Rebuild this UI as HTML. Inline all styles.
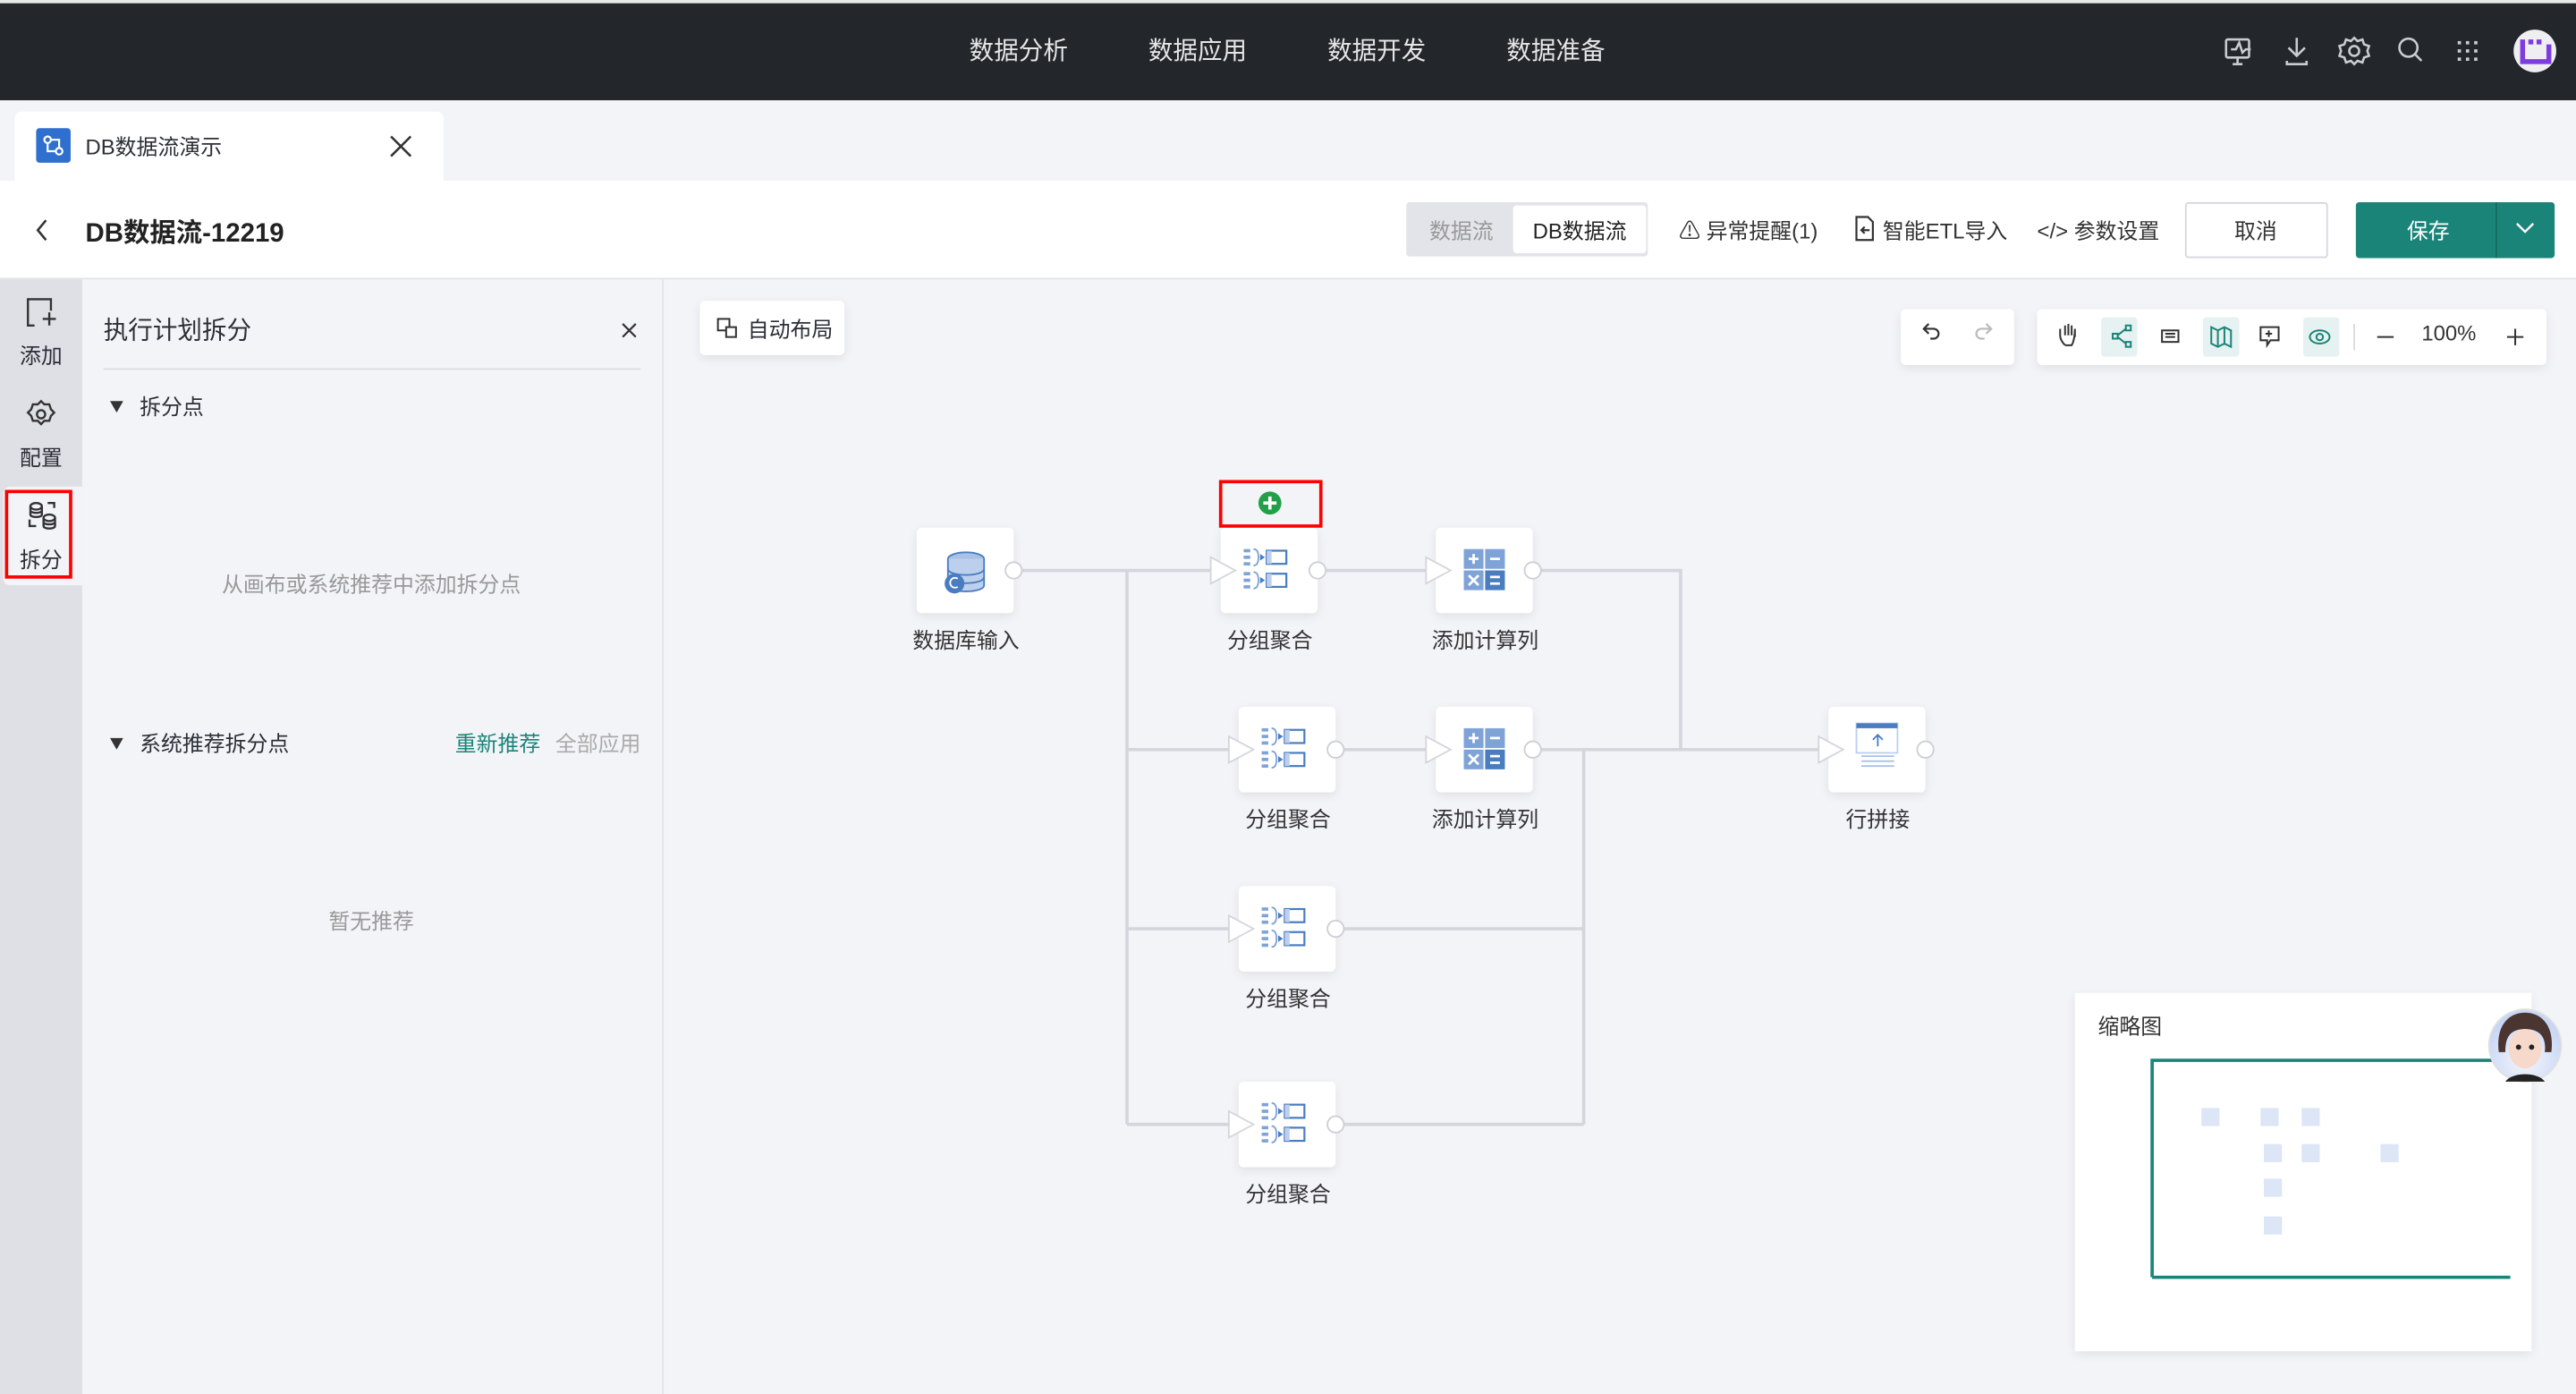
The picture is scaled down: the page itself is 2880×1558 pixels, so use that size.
<!DOCTYPE html>
<html><head><meta charset="utf-8">
<style>
html,body{margin:0;padding:0;width:2880px;height:1558px;overflow:hidden;background:#f3f4f8;}
#s{position:absolute;left:0;top:0;width:1568px;height:848px;transform:scale(1.836735,1.837264);transform-origin:0 0;font-family:"Liberation Sans","Noto Sans CJK SC",sans-serif;color:#2b2f36;background:#f3f4f8;}
.a{position:absolute;white-space:nowrap;}
.t{font-size:13px;margin-top:-2px;}
.card{position:absolute;background:#fff;border-radius:3px;box-shadow:0 2px 6px rgba(0,0,0,0.08);}
.lbl{position:absolute;font-size:13px;color:#333;transform:translateX(-50%);white-space:nowrap;margin-top:-1px;}
.tri{position:absolute;width:0;height:0;border-left:4.5px solid transparent;border-right:4.5px solid transparent;border-top:7px solid #333;}
</style></head><body>
<div id="s">
<!-- top bar -->
<div class="a" style="left:0;top:0;width:1568px;height:2px;background:#e8e8e8"></div>
<div class="a" style="left:0;top:2px;width:1568px;height:59px;background:#23272b"></div>
<div class="a" style="left:590px;top:20px;font-size:15px;color:#e6e6e6">数据分析</div>
<div class="a" style="left:699px;top:20px;font-size:15px;color:#e6e6e6">数据应用</div>
<div class="a" style="left:808px;top:20px;font-size:15px;color:#e6e6e6">数据开发</div>
<div class="a" style="left:917px;top:20px;font-size:15px;color:#e6e6e6">数据准备</div>
<svg class="a" style="left:1340px;top:15px" width="228" height="34" viewBox="0 0 228 34" fill="none" stroke="#c9ccd0" stroke-width="1.4">
<rect x="15" y="9" width="14" height="11" rx="1"/><path d="M18 15l3-0 2-4 2 6 2-2h3M19 24h6M22 20v4"/>
<path d="M58 8v11M53 14l5 5 5-5M52 22v2h12v-2"/>
<circle cx="93" cy="16" r="3"/><path d="M93 8l2 2 3-1 1 3 3 1-1 3 1 3-3 1-1 3-3-1-2 2-2-2-3 1-1-3-3-1 1-3-1-3 3-1 1-3 3 1z"/>
<circle cx="126" cy="14" r="5.5"/><path d="M130 18l4 4"/>
<g fill="#c9ccd0" stroke="none"><rect x="156" y="10" width="2" height="2"/><rect x="161" y="10" width="2" height="2"/><rect x="166" y="10" width="2" height="2"/><rect x="156" y="15" width="2" height="2"/><rect x="161" y="15" width="2" height="2"/><rect x="166" y="15" width="2" height="2"/><rect x="156" y="20" width="2" height="2"/><rect x="161" y="20" width="2" height="2"/><rect x="166" y="20" width="2" height="2"/></g>
<circle cx="203" cy="16" r="13" fill="#efeff2" stroke="none"/>
<path d="M196 9h3v3h-3zM201 9h3v3h-3zM206 9h3v3h-3zM196 12h3v9h13v-9h3v12h-19z" fill="#7d3ce0" stroke="none" transform="translate(-2,0)"/>
</svg>
<!-- tab row -->
<div class="a" style="left:9px;top:68px;width:261px;height:42px;background:#fff;border-radius:4px 4px 0 0"></div>
<div class="a" style="left:22px;top:78px;width:21px;height:21px;background:#2f6fce;border-radius:2px"></div>
<svg class="a" style="left:22px;top:78px" width="21" height="21" fill="none" stroke="#fff" stroke-width="1.2"><circle cx="7" cy="7" r="2"/><circle cx="14" cy="14" r="2"/><path d="M9 7h5v5M7 9v5h5"/></svg>
<div class="a t" style="left:52px;top:81px;color:#2b2f36">DB数据流演示</div>
<svg class="a" style="left:237px;top:82px" width="14" height="14" stroke="#333" stroke-width="1.4"><path d="M1 1l12 12M13 1L1 13"/></svg>
<!-- header -->
<div class="a" style="left:0;top:110px;width:1568px;height:59px;background:#fff;border-bottom:1px solid #e2e4e8"></div>
<svg class="a" style="left:20px;top:132px" width="12" height="16" fill="none" stroke="#333" stroke-width="1.4"><path d="M8 2l-5 6 5 6"/></svg>
<div class="a" style="left:52px;top:128px;font-size:16px;font-weight:bold;color:#222">DB数据流-12219</div>
<div class="a" style="left:856px;top:123px;width:147px;height:33px;background:#e2e4e9;border-radius:2px"></div>
<div class="a" style="left:921px;top:125px;width:81px;height:29px;background:#fff;border-radius:2px"></div>
<div class="a t" style="left:870px;top:132px;color:#999">数据流</div>
<div class="a t" style="left:933px;top:132px;color:#222">DB数据流</div>
<div class="a t" style="left:1022px;top:132px;color:#333">⚠ 异常提醒(1)</div>
<svg class="a" style="left:1128px;top:131px" width="14" height="16" fill="none" stroke="#333" stroke-width="1.2"><path d="M2 1h7l3 3v11H2zM5 9h5M7 7l-2 2 2 2"/></svg>
<div class="a t" style="left:1146px;top:132px;color:#333">智能ETL导入</div>
<div class="a t" style="left:1240px;top:132px;color:#333">&lt;/&gt; 参数设置</div>
<div class="a" style="left:1330px;top:123px;width:85px;height:32px;background:#fff;border:1px solid #d5d8de;border-radius:2px"></div>
<div class="a t" style="left:1360px;top:132px;color:#333">取消</div>
<div class="a" style="left:1434px;top:123px;width:121px;height:34px;background:#1b8479;border-radius:2px"></div>
<div class="a" style="left:1519px;top:123px;width:1px;height:34px;background:#136c62"></div>
<div class="a t" style="left:1465px;top:132px;color:#fff">保存</div>
<svg class="a" style="left:1531px;top:134px" width="12" height="10" fill="none" stroke="#fff" stroke-width="1.3"><path d="M1 2l5 5 5-5"/></svg>
<!-- left rail -->
<div class="a" style="left:0;top:170px;width:50px;height:678px;background:#dfe0e5"></div>
<div class="a" style="left:2px;top:296px;width:48px;height:60px;background:#f3f4f8;border-radius:4px 0 0 4px"></div>
<svg class="a" style="left:14px;top:180px" width="22" height="22" fill="none" stroke="#333" stroke-width="1.3"><path d="M11 2H3v16h4M3 2h14v7M12 14h8M16 10v8"/></svg>
<div class="a t" style="left:12px;top:208px">添加</div>
<svg class="a" style="left:15px;top:242px" width="20" height="20" fill="none" stroke="#333" stroke-width="1.3"><circle cx="10" cy="10" r="2.5"/><path d="M10 2l2 2 3-0 1 3 2 2-2 2 -1 3-3 0-2 2-2-2-3 0-1-3-2-2 2-2 1-3 3 0z"/></svg>
<div class="a t" style="left:12px;top:270px">配置</div>
<svg class="a" style="left:15px;top:304px" width="22" height="20" fill="none" stroke="#333" stroke-width="1.3"><ellipse cx="7" cy="4" rx="3.5" ry="2"/><path d="M3.5 4v5c0 2 7 2 7 0V4M3.5 6.5c0 2 7 2 7 0"/><ellipse cx="15" cy="11" rx="3.5" ry="2"/><path d="M11.5 11v5c0 2 7 2 7 0v-5M11.5 13.5c0 2 7 2 7 0M14 2h4v3M3 12v4h4"/></svg>
<div class="a t" style="left:12px;top:332px">拆分</div>
<div class="a" style="left:3px;top:298px;width:37px;height:50px;border:2px solid #f00"></div>
<!-- panel -->
<div class="a" style="left:403px;top:170px;width:1px;height:678px;background:#e2e4e8"></div>
<div class="a" style="left:63px;top:190px;font-size:15px;color:#2b2f36">执行计划拆分</div>
<svg class="a" style="left:378px;top:196px" width="10" height="10" stroke="#333" stroke-width="1.2"><path d="M1 1l8 8M9 1L1 9"/></svg>
<div class="a" style="left:63px;top:224px;width:327px;height:1px;background:#dcdee3"></div>
<div class="tri" style="left:67px;top:244px"></div>
<div class="a t" style="left:85px;top:239px">拆分点</div>
<div class="a t" style="left:135px;top:347px;color:#999">从画布或系统推荐中添加拆分点</div>
<div class="tri" style="left:67px;top:449px"></div>
<div class="a t" style="left:85px;top:444px">系统推荐拆分点</div>
<div class="a t" style="left:277px;top:444px;color:#1b8479">重新推荐</div>
<div class="a t" style="left:338px;top:444px;color:#aaa">全部应用</div>
<div class="a t" style="left:200px;top:552px;color:#999">暂无推荐</div>
<!-- canvas tools -->
<div class="card" style="left:426px;top:183px;width:88px;height:33px"></div>
<svg class="a" style="left:436px;top:193px" width="14" height="14" fill="none" stroke="#333" stroke-width="1.1"><rect x="1" y="1" width="7" height="7"/><rect x="6" y="6" width="6" height="6" fill="#fff"/></svg>
<div class="a t" style="left:455px;top:192px">自动布局</div>
<div class="card" style="left:1157px;top:188px;width:69px;height:34px"></div>
<svg class="a" style="left:1157px;top:188px" width="69" height="34" fill="none" stroke-width="1.2"><path d="M17 13l-3 3 3 3M14 16h6a3 3 0 0 1 0 6h-2" stroke="#333" transform="translate(0,-4)"/><path d="M52 13l3 3-3 3M55 16h-6a3 3 0 0 0 0 6h2" stroke="#bbb" transform="translate(0,-4)"/></svg>
<div class="card" style="left:1240px;top:188px;width:310px;height:34px"></div>
<div class="a" style="left:1279px;top:193px;width:22px;height:24px;background:#e6f2f1;border-radius:2px"></div>
<div class="a" style="left:1341px;top:193px;width:22px;height:24px;background:#e6f2f1;border-radius:2px"></div>
<div class="a" style="left:1402px;top:193px;width:22px;height:24px;background:#e6f2f1;border-radius:2px"></div>
<svg class="a" style="left:1240px;top:188px" width="310" height="34" fill="none" stroke-width="1.1">
<path d="M17 22c-2-2-3-4-3-6v-4M17 16V10M19 16V9M21 16V10M23 17v-5c0 0 0 7-2 10h-4" stroke="#333"/>
<g stroke="#1b8479"><rect x="54" y="10" width="3" height="3"/><rect x="54" y="20" width="3" height="3"/><rect x="46" y="15" width="3" height="3"/><path d="M49 16l5-4M49 17l5 4"/></g>
<g stroke="#333"><rect x="76" y="13" width="10" height="7"/><path d="M78 15h6M78 17h6"/></g>
<path d="M106 11l4 2 4-2 4 2v10l-4-2-4 2-4-2z M110 13v10M114 11v10" stroke="#1b8479"/>
<path d="M136 11h11v8h-5l-2 3v-3h-4z M141 13v4M139 15h4" stroke="#333"/>
<ellipse cx="172" cy="17" rx="6" ry="4" stroke="#1b8479"/><circle cx="172" cy="17" r="2" stroke="#1b8479"/>
<path d="M193 9v16" stroke="#ddd"/>
<path d="M207 17h10M286 17h10M291 12v10" stroke="#333"/>
</svg>
<div class="a t" style="left:1474px;top:197px;color:#333">100%</div>
<!-- connectors -->
<svg class="a" style="left:0;top:0" width="1568" height="848" fill="none">
<g stroke="#d3d6dc" stroke-width="2">
<path d="M617 347H743M686 347V684M686 456H754M686 565H754M686 684H754"/>
<path d="M802 347H874M933 347H1023V456M813 456H874M933 456H1113M964 456V684M813 565H964M813 684H964"/>
</g>
</svg>
<!-- nodes -->
<div class="card" style="left:558px;top:321px;width:59px;height:52px"></div>
<div class="card" style="left:743px;top:321px;width:59px;height:52px"></div>
<div class="card" style="left:874px;top:321px;width:59px;height:52px"></div>
<div class="card" style="left:754px;top:430px;width:59px;height:52px"></div>
<div class="card" style="left:874px;top:430px;width:59px;height:52px"></div>
<div class="card" style="left:1113px;top:430px;width:59px;height:52px"></div>
<div class="card" style="left:754px;top:539px;width:59px;height:52px"></div>
<div class="card" style="left:754px;top:658px;width:59px;height:52px"></div>
<svg class="a" style="left:0;top:0" width="1568" height="848">
<defs>
<g id="grp"><g fill="#7fa3d6"><rect x="0" y="0" width="4" height="2"/><rect x="0" y="4" width="4" height="2"/><rect x="0" y="8" width="4" height="2"/><rect x="0" y="14" width="4" height="2"/><rect x="0" y="18" width="4" height="2"/><rect x="0" y="22" width="4" height="2"/></g>
<path d="M6 0q3 0 3 5 0 5-3 5M6 14q3 0 3 5 0 5-3 5" stroke="#7fa3d6" fill="none"/><path d="M10 3l3 2-3 2zM10 17l3 2-3 2z" fill="#4a7cc0"/>
<rect x="14" y="1" width="12" height="8" fill="#fff" stroke="#4a7cc0" stroke-width="1.2"/><rect x="14" y="15" width="12" height="8" fill="#fff" stroke="#4a7cc0" stroke-width="1.2"/><rect x="14" y="1" width="3" height="8" fill="#bcd0ee"/><rect x="14" y="15" width="3" height="8" fill="#bcd0ee"/></g>
<g id="calc"><rect x="0" y="0" width="12" height="12" fill="#7fa3d6"/><rect x="13" y="0" width="12" height="12" fill="#7fa3d6"/><rect x="0" y="13" width="12" height="12" fill="#7fa3d6"/><rect x="13" y="13" width="12" height="12" fill="#4a7cc0"/>
<path d="M3 6h6M6 3v6M16 6h6M3 16l6 6M9 16l-6 6M16 17h6M16 21h6" stroke="#fff" stroke-width="1.5"/></g>
</defs>
<g><ellipse cx="588" cy="340" rx="11" ry="4" fill="#a9c1e6" stroke="#4a7cc0"/><path d="M577 340v16c0 5 22 5 22 0v-16" fill="#bcd0ee" stroke="#4a7cc0"/><path d="M577 346c0 5 22 5 22 0M577 351c0 5 22 5 22 0" stroke="#4a7cc0" fill="none"/><circle cx="581" cy="355" r="6" fill="#4a7cc0"/><path d="M583 352a3 3 0 1 0 0 5" stroke="#fff" fill="none"/></g>
<use href="#grp" x="757" y="334"/><use href="#grp" x="768" y="443"/><use href="#grp" x="768" y="552"/><use href="#grp" x="768" y="671"/>
<use href="#calc" x="891" y="334"/><use href="#calc" x="891" y="443"/>
<g><rect x="1130" y="440" width="25" height="18" fill="#fff" stroke="#bcd0ee"/><rect x="1130" y="440" width="25" height="3" fill="#4a7cc0"/><path d="M1143 447v7M1140 450l3-3 3 3" stroke="#4a7cc0" fill="none"/><path d="M1133 460h20M1133 463h20M1133 466h20" stroke="#a9c1e6"/></g>
<g fill="#fff" stroke="#d3d6dc" stroke-width="1">
<path d="M737 339l15 8-15 8z"/><path d="M868 339l15 8-15 8z"/><path d="M748 448l15 8-15 8z"/><path d="M868 448l15 8-15 8z"/><path d="M1107 448l15 8-15 8z"/><path d="M748 557l15 8-15 8z"/><path d="M748 676l15 8-15 8z"/>
</g>
<g fill="#fff" stroke="#ccd0d6"><circle cx="617" cy="347" r="5"/><circle cx="802" cy="347" r="5"/><circle cx="933" cy="347" r="5"/><circle cx="813" cy="456" r="5"/><circle cx="933" cy="456" r="5"/><circle cx="1172" cy="456" r="5"/><circle cx="813" cy="565" r="5"/><circle cx="813" cy="684" r="5"/></g>
<rect x="743" y="293" width="61" height="27" fill="none" stroke="#f00" stroke-width="2"/>
<circle cx="773" cy="306" r="7" fill="#22a047"/><path d="M773 302v8M769 306h8" stroke="#fff" stroke-width="2"/>
</svg>
<div class="lbl" style="left:588px;top:380px">数据库输入</div>
<div class="lbl" style="left:773px;top:380px">分组聚合</div>
<div class="lbl" style="left:904px;top:380px">添加计算列</div>
<div class="lbl" style="left:784px;top:489px">分组聚合</div>
<div class="lbl" style="left:904px;top:489px">添加计算列</div>
<div class="lbl" style="left:1143px;top:489px">行拼接</div>
<div class="lbl" style="left:784px;top:598px">分组聚合</div>
<div class="lbl" style="left:784px;top:717px">分组聚合</div>
<!-- minimap -->
<div class="card" style="left:1263px;top:604px;width:278px;height:218px;border-radius:0"></div>
<div class="a t" style="left:1277px;top:616px;color:#333">缩略图</div>
<svg class="a" style="left:1263px;top:604px" width="305" height="218">
<path d="M47 173V41H265M47 173H265" stroke="#1b8479" stroke-width="2" fill="none"/>
<g fill="#dce6f7"><rect x="77" y="70" width="11" height="11"/><rect x="113" y="70" width="11" height="11"/><rect x="138" y="70" width="11" height="11"/><rect x="115" y="92" width="11" height="11"/><rect x="138" y="92" width="11" height="11"/><rect x="186" y="92" width="11" height="11"/><rect x="115" y="113" width="11" height="11"/><rect x="115" y="136" width="11" height="11"/></g>
<defs><radialGradient id="bg" cx="0.5" cy="0.7" r="0.6"><stop offset="0" stop-color="#f4f6fb"/><stop offset="1" stop-color="#c7d6f5"/></radialGradient></defs>
<circle cx="274" cy="32" r="22" fill="url(#bg)" stroke="#e0e0e0"/>
<path d="M258 36c-2-16 6-24 16-24s18 8 16 24l-4 0c1-8-2-14-12-14s-12 6-12 14z" fill="#4a3530"/>
<ellipse cx="274" cy="34" rx="10" ry="12" fill="#f7d9cc"/>
<circle cx="270" cy="33" r="1.6" fill="#222"/><circle cx="278" cy="33" r="1.6" fill="#222"/>
<path d="M262 54c4-6 20-6 24 0z" fill="#222"/>
</svg>
</div>
</body></html>
